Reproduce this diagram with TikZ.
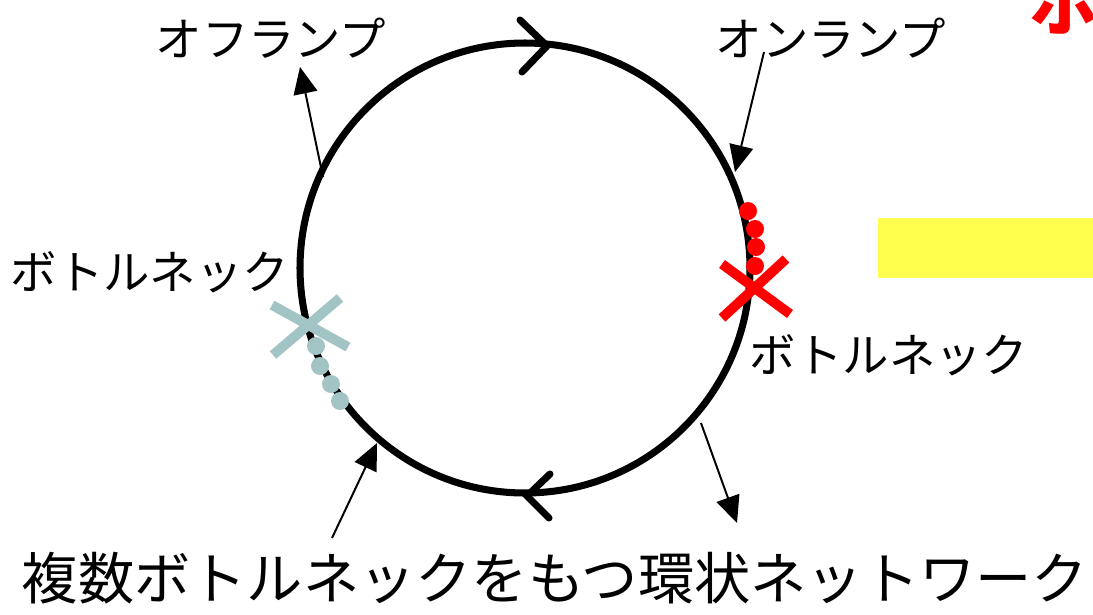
\documentclass[tikz,border=0pt]{standalone}
\usepackage{fontspec}
\setmainfont{Noto Sans CJK JP}
\usetikzlibrary{arrows.meta}
\definecolor{hilite}{RGB}{255,255,77}
\definecolor{neckgray}{RGB}{163,196,196}

\begin{document}
\begin{tikzpicture}[x=0.025cm,y=-0.025cm,>={Triangle[length=19pt,width=17pt]}]
  \useasboundingbox (0,0) rectangle (1093,614);
  \fill[hilite] (878,218) rectangle (1093,278);
  \node[red,font=\fontsize{49}{49}\selectfont\bfseries,anchor=base] (hoR) at (1064,30) {ホ};

  % ring
  \coordinate (c) at (525,268);
  \draw[line width=5pt] (c) circle[radius=225];
  \draw[line width=5pt,line cap=round,line join=miter] (520,20)--(547,46)--(522,72);
  \draw[line width=5pt,line cap=round,line join=miter] (550,474)--(527,496)--(549,518);

  % labels
  \node[font=\fontsize{33}{33}\selectfont] (offL) at (271,38) {オフランプ};
  \node[font=\fontsize{33}{33}\selectfont] (onL) at (831,38) {オンランプ};
  \node[font=\fontsize{33}{33}\selectfont] (neckL) at (150,272) {ボトルネック};
  \node[font=\fontsize{33}{33}\selectfont] (neckR) at (889,355) {ボトルネック};
  \node[font=\fontsize{40}{40}\selectfont] (title) at (555,578) {複数ボトルネックをもつ環状ネットワーク};

  % arrows
  \coordinate (offA) at (323,177);
  \coordinate (offB) at (300,67);
  \coordinate (onA) at (764,52);
  \coordinate (onB) at (735,172);
  \coordinate (outA) at (701,423);
  \coordinate (outB) at (737,523);
  \coordinate (inA) at (332,538);
  \coordinate (inB) at (377,443);
  \foreach \a/\b in {offA/offB,onA/onB,outA/outB,inA/inB}
    \draw[->,line width=1.4pt] (\a) -- (\b);

  % bottlenecks
  \foreach \p in {(748,211),(755,229),(756,247),(755,266)}
    \fill[red] \p circle[radius=9];
  \draw[red,line width=7pt] (722,264)--(790,314) (786,259)--(722,318);
  \foreach \p in {(316,346),(320,366),(331,384),(340,401)}
    \fill[neckgray] \p circle[radius=9];
  \draw[neckgray,line width=7pt] (272,305)--(348,347) (340,298)--(273,355);
\end{tikzpicture}
\end{document}
